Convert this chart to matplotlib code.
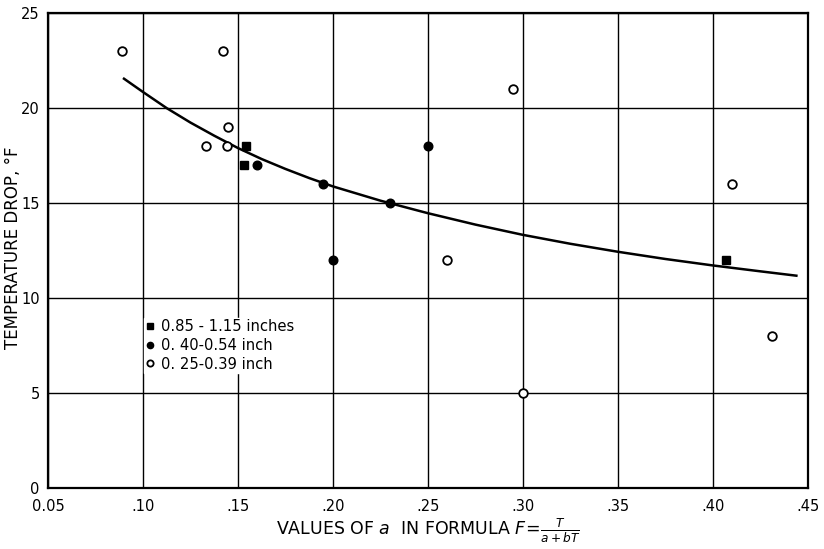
import matplotlib
matplotlib.use("Agg")
import matplotlib.pyplot as plt

# Data
sq_x = [0.154, 0.153, 0.407]          # 0.85 - 1.15 inches (filled squares)
sq_y = [18, 17, 12]
fc_x = [0.160, 0.195, 0.200, 0.230, 0.250]   # 0.40-0.54 inch (filled circles)
fc_y = [17, 16, 12, 15, 18]
oc_x = [0.089, 0.142, 0.133, 0.144, 0.145, 0.260, 0.295, 0.300, 0.410, 0.431]  # 0.25-0.39 inch
oc_y = [23, 23, 18, 18, 19, 12, 21, 5, 16, 8]

curve_x = [0.090, 0.100, 0.1125, 0.125, 0.1375, 0.150, 0.1625, 0.175, 0.1875,
           0.200, 0.225, 0.250, 0.275, 0.300, 0.325, 0.350, 0.375, 0.400,
           0.425, 0.444]
curve_y = [21.55, 20.85, 20.0, 19.24, 18.55, 17.9, 17.32, 16.8, 16.32,
           15.88, 15.13, 14.47, 13.87, 13.33, 12.86, 12.44, 12.06, 11.72,
           11.41, 11.18]

x_ticks = [0.05, 0.10, 0.15, 0.20, 0.25, 0.30, 0.35, 0.40, 0.45]
x_tick_labels = ["0.05", ".10", ".15", ".20", ".25", ".30", ".35", ".40", ".45"]
y_ticks = [0, 5, 10, 15, 20, 25]
y_tick_labels = ["0", "5", "10", "15", "20", "25"]

legend_labels = ["0.85 - 1.15 inches", "0. 40-0.54 inch", "0. 25-0.39 inch"]

plt.rcParams['font.family'] = ['DejaVu Sans']

fig = plt.figure(figsize=(8.24, 5.49), dpi=100)
ax = fig.add_axes([0.0583, 0.111, 0.922, 0.865])

ax.set_xlim(0.05, 0.45)
ax.set_ylim(0, 25)
ax.set_xticks(x_ticks)
ax.set_xticklabels(x_tick_labels, fontsize=10.5)
ax.set_yticks(y_ticks)
ax.set_yticklabels(y_tick_labels, fontsize=10.5)
ax.tick_params(length=0, pad=8)
ax.tick_params(axis='y', pad=6)
ax.grid(True, color='black', linewidth=1.0)
ax.set_axisbelow(True)
for s in ax.spines.values():
    s.set_linewidth(1.6)
    s.set_color('black')

ax.plot(curve_x, curve_y, color='black', linewidth=1.8, zorder=3)

h1, = ax.plot(sq_x, sq_y, linestyle='none', marker='s', markersize=5.5,
              color='black', zorder=4)
h2, = ax.plot(fc_x, fc_y, linestyle='none', marker='o', markersize=6.2,
              color='black', zorder=4)
h3, = ax.plot(oc_x, oc_y, linestyle='none', marker='o', markersize=6.2,
              markerfacecolor='white', markeredgecolor='black',
              markeredgewidth=1.3, zorder=4)

leg = ax.legend([h1, h2, h3], legend_labels, loc='upper left',
                bbox_to_anchor=(0.121, 0.368), frameon=True, fontsize=10.6,
                handlelength=0.6, handletextpad=0.4, labelspacing=0.25,
                borderpad=0.1, borderaxespad=0.3, fancybox=False,
                edgecolor='white', framealpha=1)
for h in leg.legend_handles:
    h.set_markersize(4.5)

ax.set_ylabel("TEMPERATURE DROP, °F", fontsize=12)
ax.yaxis.set_label_coords(-0.034, 0.507)
ax.set_xlabel(r"VALUES OF $a$  IN FORMULA $F\!=\!\frac{T}{a+bT}$", fontsize=12.5, labelpad=2)

fig.savefig("out.png", dpi=100)
